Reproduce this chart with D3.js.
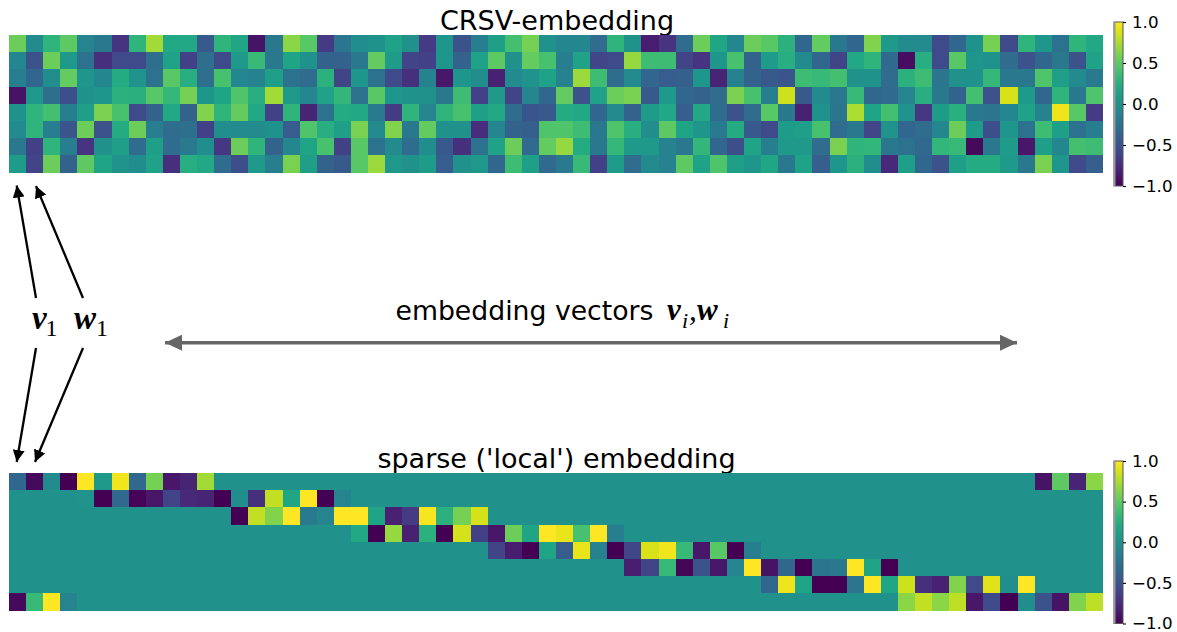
<!DOCTYPE html>
<html>
<head>
<meta charset="utf-8">
<script src="https://cdn.jsdelivr.net/npm/d3@7"></script>
<style>
  body { margin: 0; background: #fff; }
  text { font-family: "DejaVu Sans", sans-serif; fill: #000; }
</style>
</head>
<body>
<div id="my_dataviz"></div>
<script>
// Values, one array per heatmap row
const crsvRow0 = [.55,-.05,.3,.5,-.1,-.2,-.7,.3,.72,.2,.2,-.45,.3,.18,-.9,-.2,.65,.48,-.65,-.22,-.03,.02,.15,0,-.65,.05,-.5,-.15,.12,.4,.58,0,-.08,-.08,-.3,.3,.02,-.85,-.7,-.3,.55,.18,-.08,.55,.48,.28,-.35,.52,-.2,-.35,.62,.08,-.05,-.05,-.55,-.35,.02,.58,-.55,.3,.05,-.25,.3,.2];
const crsvRow1 = [-.08,-.5,.55,.08,-.25,-.72,-.55,-.55,-.28,.15,-.62,-.28,-.55,.08,.35,-.2,.17,.02,-.38,-.38,-.2,.52,.1,-.6,-.62,.05,-.38,.15,.5,0,.52,.42,-.15,.15,-.58,-.55,.68,.38,.38,-.6,-.7,.05,.42,-.38,.1,.25,-.05,-.35,-.6,.2,.3,-.32,-.93,.25,-.55,.48,.05,.02,-.3,-.5,-.35,-.2,-.5,.15];
const crsvRow2 = [-.15,-.35,-.02,.52,.05,-.08,.22,.03,-.25,.48,.25,-.28,.42,-.08,-.12,.12,-.25,-.3,.28,-.6,.05,-.25,-.55,-.72,-.12,-.88,.05,-.03,-.82,-.05,.03,.15,-.12,.7,.38,-.3,-.05,-.35,-.42,-.4,.05,-.8,-.12,-.38,-.45,-.48,.38,.35,.4,0,.02,-.3,.28,.38,-.22,0,0,.33,-.2,-.2,.45,.12,-.05,-.18];
const crsvRow3 = [-.9,.07,-.28,-.52,.02,.05,.28,.27,.48,.33,.58,.05,.17,.45,.25,.72,.08,-.08,.15,.32,-.25,.48,.05,.02,0,-.2,.38,-.62,.08,-.6,-.1,-.35,.52,-.5,.15,.55,.6,-.45,.08,-.35,-.38,-.3,.6,.42,-.15,.85,-.45,-.05,-.2,.35,-.35,-.32,-.1,.25,-.2,-.38,.4,-.5,.88,.08,-.35,.3,-.2,.45];
const crsvRow4 = [0,.3,.4,-.15,.12,.6,.42,-.55,-.38,.2,-.38,.62,.3,.52,.2,-.62,.3,-.8,-.25,.22,.2,-.18,-.65,.3,-.1,.3,.42,.12,.2,-.3,-.48,-.45,.22,.2,-.35,-.05,-.38,.1,.2,-.4,.2,-.3,-.5,-.3,.48,-.2,-.82,.02,-.22,.75,.17,.4,.03,-.68,.1,.27,-.2,-.22,-.08,.15,-.12,.95,.48,-.65];
const crsvRow5 = [-.05,.3,-.15,-.48,.55,-.5,.22,.55,-.15,-.3,-.28,-.62,-.03,-.05,-.05,.02,-.42,.45,.25,.12,.6,-.05,.62,-.2,.52,0,0,-.75,-.08,-.38,-.4,.45,.45,.38,-.2,.45,.25,-.02,.5,.17,.05,-.18,.22,-.45,-.55,.1,.12,.42,-.3,-.2,-.58,.03,-.35,-.3,-.08,.55,.1,-.52,.05,-.25,.38,.12,-.25,-.15];
const crsvRow6 = [-.2,-.62,.3,-.15,-.7,0,.12,-.3,.12,-.3,-.18,-.02,-.68,.55,.3,-.38,-.08,.17,.42,-.62,.48,-.25,-.05,-.3,-.02,-.45,-.72,-.25,.15,.55,-.32,.52,.68,.22,-.2,.33,.08,.08,-.12,-.2,.32,-.35,-.52,.17,-.15,.08,.08,-.3,.6,.3,.32,-.2,-.25,-.33,.32,.35,-.95,-.2,.1,-.88,.12,-.08,.4,.38];
const crsvRow7 = [.1,-.6,.55,-.38,.5,.17,.03,-.02,.15,-.72,.25,.2,-.3,-.52,.08,-.15,.6,.12,-.38,-.45,.48,.7,.07,0,.1,-.42,0,.07,-.35,.38,.12,-.32,-.18,.35,-.62,.1,-.3,-.05,-.12,.5,.15,.45,.12,.05,.18,-.2,.15,-.4,.05,.28,-.02,-.78,.12,-.35,-.5,.12,.22,.22,.08,-.2,.6,.05,-.55,-.4];

const sparseRow0 = [-.35,-.95,-.05,-1,1,.08,.96,-.33,.58,-.88,-.8,.72,0,0,0,0,0,0,0,0,0,0,0,0,0,0,0,0,0,0,0,0,0,0,0,0,0,0,0,0,0,0,0,0,0,0,0,0,0,0,0,0,0,0,0,0,0,0,0,0,-.9,.5,-.8,.65];
const sparseRow1 = [0,0,0,0,.03,-1,-.33,-.98,-.88,-.6,-.78,-.8,-1,-.02,-.72,.82,.18,1,-1,-.1,0,0,0,0,0,0,0,0,0,0,0,0,0,0,0,0,0,0,0,0,0,0,0,0,0,0,0,0,0,0,0,0,0,0,0,0,0,0,0,0,0,0,0,0];
const sparseRow2 = [0,0,0,0,0,0,0,0,0,0,0,0,0,-1,.82,.62,1,-.18,-.1,1,1,.17,-.82,-.65,.97,.28,.58,.87,0,0,0,0,0,0,0,0,0,0,0,0,0,0,0,0,0,0,0,0,0,0,0,0,0,0,0,0,0,0,0,0,0,0,0,0];
const sparseRow3 = [0,0,0,0,0,0,0,0,0,0,0,0,0,0,0,0,0,0,0,0,.2,-1,.68,-.82,.28,-1,.87,-.62,-.88,.55,.17,1,.93,.42,1,-.15,0,0,0,0,0,0,0,0,0,0,0,0,0,0,0,0,0,0,0,0,0,0,0,0,0,0,0,0];
const sparseRow4 = [0,0,0,0,0,0,0,0,0,0,0,0,0,0,0,0,0,0,0,0,0,0,0,0,0,0,0,0,-.6,-.85,-1,.17,-.42,.93,-.12,-1,-.58,.88,.96,.35,-.88,.48,-1,-.15,0,0,0,0,0,0,0,0,0,0,0,0,0,0,0,0,0,0,0,0];
const sparseRow5 = [0,0,0,0,0,0,0,0,0,0,0,0,0,0,0,0,0,0,0,0,0,0,0,0,0,0,0,0,0,0,0,0,0,0,0,0,-.85,-.6,.35,-.97,-.5,-.88,-.1,1,-.9,-.35,-1,-.22,-.2,1,.17,-1,0,0,0,0,0,0,0,0,0,0,0,0];
const sparseRow6 = [0,0,0,0,0,0,0,0,0,0,0,0,0,0,0,0,0,0,0,0,0,0,0,0,0,0,0,0,0,0,0,0,0,0,0,0,0,0,0,0,0,0,0,0,-.35,.95,.17,-1,-1,-.22,1,.18,.85,-.72,-.82,.62,-.55,.9,-.02,1,0,0,0,0];
const sparseRow7 = [-.95,.35,1,-.1,0,0,0,0,0,0,0,0,0,0,0,0,0,0,0,0,0,0,0,0,0,0,0,0,0,0,0,0,0,0,0,0,0,0,0,0,0,0,0,0,0,0,0,0,0,0,0,0,.65,.82,.65,.8,-.88,-.55,-1,-.03,-.5,-.9,.62,.8];

const crsvRows = [crsvRow0, crsvRow1, crsvRow2, crsvRow3, crsvRow4, crsvRow5, crsvRow6, crsvRow7];
const sparseRows = [sparseRow0, sparseRow1, sparseRow2, sparseRow3, sparseRow4, sparseRow5, sparseRow6, sparseRow7];
const cbarTicks = [-1, -0.5, 0, 0.5, 1];

const width = 1177, height = 632;

const svg = d3.select("#my_dataviz")
  .append("svg")
  .attr("width", width)
  .attr("height", height)
  .style("display", "block");

const color = d3.scaleSequential(d3.interpolateViridis).domain([-1, 1]);

const defs = svg.append("defs");

// Colorbar gradient
const grad = defs.append("linearGradient")
  .attr("id", "cbar")
  .attr("x1", 0).attr("x2", 0).attr("y1", 1).attr("y2", 0);
d3.range(0, 21).forEach(i => {
  grad.append("stop")
    .attr("offset", i / 20)
    .attr("stop-color", color(-1 + i / 10));
});

// Arrow heads
function addMarker(id, fill, w, h) {
  defs.append("marker")
    .attr("id", id)
    .attr("markerUnits", "userSpaceOnUse")
    .attr("viewBox", `0 0 ${w} ${h}`)
    .attr("markerWidth", w)
    .attr("markerHeight", h)
    .attr("refX", w)
    .attr("refY", h / 2)
    .attr("orient", "auto-start-reverse")
    .append("path")
    .attr("d", `M0,0L${w},${h / 2}L0,${h}Z`)
    .attr("fill", fill);
}
addMarker("headBlack", "#000", 12, 12);
addMarker("headGrey", "#666", 17, 16);

// Titles go first, the heatmaps sit on top of their descenders
function label(txt, x, y, size, anchor) {
  return svg.append("text")
    .attr("x", x).attr("y", y)
    .attr("text-anchor", anchor || "middle")
    .style("font-size", size + "px")
    .text(txt);
}
label("CRSV-embedding", 557, 30, 27);
label("sparse ('local') embedding", 556.5, 468, 27);
label("embedding vectors", 395.5, 320, 26.7, "start");

// One heatmap with its colorbar
function drawPanel(rows, box, cbarBox) {
  const x = d3.scaleBand().domain(d3.range(rows[0].length)).range([box.x0, box.x1]);
  const y = d3.scaleBand().domain(d3.range(rows.length)).range([box.y0, box.y1]);

  const g = svg.append("g").attr("shape-rendering", "crispEdges");
  rows.forEach((row, r) => {
    g.selectAll(null)
      .data(row)
      .join("rect")
      .attr("x", (d, c) => x(c))
      .attr("y", y(r))
      .attr("width", x.bandwidth() + 0.2)
      .attr("height", y.bandwidth() + 0.2)
      .attr("fill", d => color(d));
  });

  const cy = d3.scaleLinear().domain([-1, 1]).range([cbarBox.y1, cbarBox.y0]);
  svg.append("rect")
    .attr("x", cbarBox.x0)
    .attr("y", cbarBox.y0)
    .attr("width", cbarBox.x1 - cbarBox.x0)
    .attr("height", cbarBox.y1 - cbarBox.y0)
    .attr("fill", "url(#cbar)")
    .attr("stroke", "#555")
    .attr("stroke-width", 1);
  // the left edge of the bar reads as a wider grey band
  svg.append("line")
    .attr("x1", cbarBox.x0 + 0.5).attr("x2", cbarBox.x0 + 0.5)
    .attr("y1", cbarBox.y0).attr("y2", cbarBox.y1)
    .attr("stroke", "#999")
    .attr("stroke-width", 2);

  const axis = svg.append("g")
    .attr("transform", `translate(${cbarBox.x1},0)`)
    .call(d3.axisRight(cy).tickValues(cbarTicks).tickSize(3).tickPadding(6).tickFormat(d3.format(".1f")));
  axis.select(".domain").remove();
  axis.selectAll("text").style("font-size", "16.7px").style("font-family", '"DejaVu Sans"');
  axis.selectAll("line").attr("stroke-width", 1.1);
}

drawPanel(crsvRows, { x0: 9, x1: 1103, y0: 35, y1: 172.6 }, { x0: 1114, x1: 1123, y0: 22, y1: 186 });
drawPanel(sparseRows, { x0: 9, x1: 1103, y0: 473, y1: 610.6 }, { x0: 1114, x1: 1123, y0: 461, y1: 623.5 });

// Math labels
function math(txt, x, y, size, weight, fontStyle) {
  svg.append("text")
    .attr("x", x).attr("y", y)
    .style("font-family", '"Liberation Serif", serif')
    .style("font-size", size + "px")
    .style("font-style", fontStyle || "italic")
    .style("font-weight", weight || "normal")
    .text(txt);
}
math("v", 32, 329, 33, "bold");
math("1", 45.5, 336, 24, "normal", "normal");
math("w", 74, 329, 33, "bold");
math("1", 96, 336, 24, "normal", "normal");

math("v", 667, 320, 31, "bold");
math("i", 682, 328, 22);
math(",", 689, 320, 31);
math("w", 697, 320, 31, "bold");
math("i", 723, 328, 22);

// Arrows
function arrow(x1, y1, x2, y2, stroke, w, head) {
  svg.append("line")
    .attr("x1", x1).attr("y1", y1)
    .attr("x2", x2).attr("y2", y2)
    .attr("stroke", stroke)
    .attr("stroke-width", w)
    .attr("marker-end", `url(#${head})`);
}
arrow(36, 298, 16.7, 185.5, "#000", 2.3, "headBlack");
arrow(83, 298, 36, 186, "#000", 2.3, "headBlack");
arrow(36, 348, 16.7, 462, "#000", 2.3, "headBlack");
arrow(83, 348, 35, 462, "#000", 2.3, "headBlack");
svg.append("line")
  .attr("x1", 165).attr("y1", 342.7)
  .attr("x2", 1017).attr("y2", 342.7)
  .attr("stroke", "#666")
  .attr("stroke-width", 3.5)
  .attr("marker-start", "url(#headGrey)")
  .attr("marker-end", "url(#headGrey)");
</script>
</body>
</html>
